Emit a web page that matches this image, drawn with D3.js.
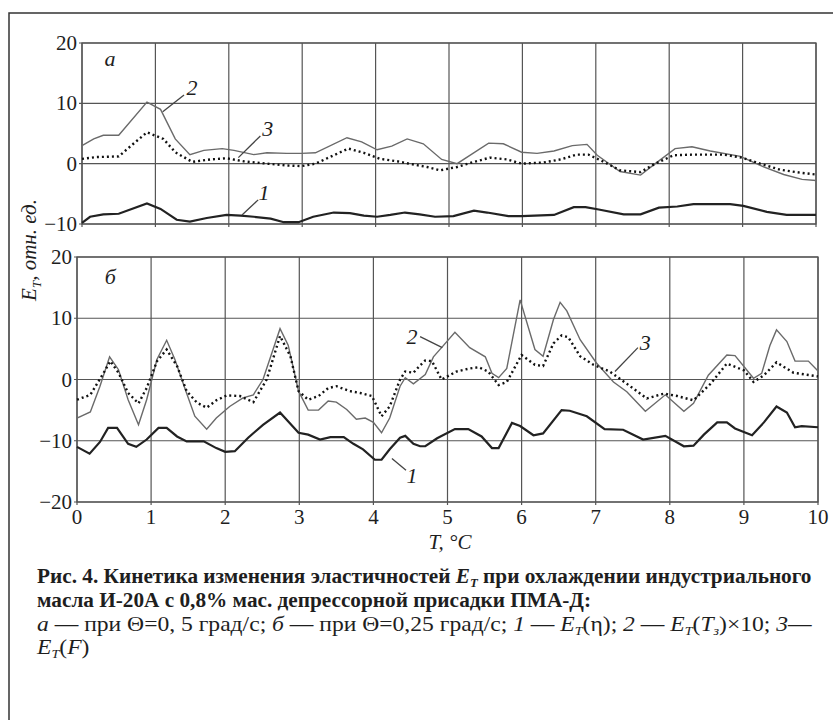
<!DOCTYPE html>
<html>
<head>
<meta charset="utf-8">
<script src="https://cdn.jsdelivr.net/npm/d3@7"></script>
<style>
  body { margin: 0; background: #fff; }
  svg { display: block; }
</style>
</head>
<body>
<div id="chart"></div>
<script>
// ---- data (T, °C ; E_T, rel. units) ----
var xTicks = [0,1,2,3,4,5,6,7,8,9,10]
var yTicksA = [-10,0,10,20]
var yTicksB = [-20,-10,0,10,20]

// panel a
var a1 = [[0,-9.8],[0.11,-8.8],[0.29,-8.4],[0.5,-8.3],[0.885,-6.6],[1.07,-7.5],[1.29,-9.3],[1.47,-9.6],[1.7,-9.0],[1.97,-8.5],[2.16,-8.6],[2.34,-8.8],[2.57,-9.1],[2.75,-9.7],[2.95,-9.7],[3.15,-8.8],[3.43,-8.1],[3.65,-8.2],[3.84,-8.6],[4.02,-8.8],[4.2,-8.5],[4.4,-8.1],[4.6,-8.4],[4.81,-8.8],[5.06,-8.7],[5.34,-7.8],[5.52,-8.1],[5.81,-8.7],[5.99,-8.7],[6.43,-8.5],[6.7,-7.2],[6.86,-7.2],[7.04,-7.6],[7.38,-8.4],[7.61,-8.4],[7.86,-7.3],[8.11,-7.1],[8.33,-6.7],[8.83,-6.7],[9.01,-7.0],[9.33,-8.0],[9.6,-8.5],[10,-8.5]]
var a2 = [[0,3.0],[0.16,4.1],[0.29,4.7],[0.5,4.7],[0.885,10.2],[1.07,9.0],[1.27,4.1],[1.47,1.5],[1.66,2.2],[1.91,2.5],[2.07,2.2],[2.34,1.5],[2.52,1.8],[2.79,1.7],[2.99,1.7],[3.18,1.8],[3.61,4.3],[3.81,3.6],[4.02,2.3],[4.22,2.9],[4.43,4.1],[4.65,3.3],[4.9,0.7],[5.11,0],[5.54,3.4],[5.74,3.3],[5.99,1.9],[6.2,1.7],[6.43,2.1],[6.68,3.0],[6.88,3.2],[7.02,1.4],[7.33,-1.3],[7.61,-1.9],[7.81,0],[8.08,2.5],[8.31,2.8],[8.56,2.1],[8.97,1.2],[9.24,-0.3],[9.56,-1.8],[9.81,-2.6],[10,-2.8]]
var a3 = [[0,0.8],[0.2,1.1],[0.5,1.2],[0.7,3.3],[0.885,5.2],[1.11,4.1],[1.27,1.9],[1.5,0.3],[1.75,0.7],[1.97,0.9],[2.2,0.4],[2.52,0],[2.79,-0.3],[2.99,-0.4],[3.18,0],[3.43,1.4],[3.63,2.5],[3.84,1.8],[4.06,0.8],[4.29,0.4],[4.5,-0.1],[4.7,-0.55],[4.88,-1.1],[5.11,-0.55],[5.34,0.3],[5.56,1.0],[5.79,0.7],[5.99,0],[6.29,0.2],[6.52,0.7],[6.74,1.5],[6.9,1.5],[7.11,0.3],[7.33,-1.1],[7.61,-1.4],[7.81,0],[8.06,1.4],[8.33,1.5],[8.74,1.5],[8.99,1.0],[9.24,0],[9.51,-1.0],[9.79,-1.5],[10,-1.8]]

// panel б
var b1 = [[0,-11.0],[0.17,-12.1],[0.31,-10.2],[0.42,-7.9],[0.54,-7.9],[0.69,-10.5],[0.8,-11.0],[0.94,-9.8],[1.1,-7.9],[1.21,-7.9],[1.35,-9.3],[1.48,-10.1],[1.71,-10.1],[1.88,-11.2],[2.0,-11.8],[2.13,-11.7],[2.31,-9.5],[2.51,-7.4],[2.74,-5.4],[2.99,-8.7],[3.12,-9.0],[3.28,-9.8],[3.42,-9.4],[3.6,-9.4],[3.73,-10.5],[3.86,-11.4],[4.02,-13.1],[4.11,-13.1],[4.22,-11.4],[4.36,-9.5],[4.43,-9.2],[4.54,-10.5],[4.63,-10.9],[4.7,-10.9],[4.86,-9.6],[5.1,-8.1],[5.28,-8.1],[5.46,-9.3],[5.6,-11.2],[5.69,-11.2],[5.87,-7.1],[5.98,-7.6],[6.16,-9.1],[6.29,-8.8],[6.54,-5.0],[6.65,-5.1],[6.88,-6.0],[7.12,-8.1],[7.37,-8.2],[7.64,-9.8],[7.94,-9.2],[8.19,-10.9],[8.32,-10.8],[8.46,-9.0],[8.64,-7.0],[8.77,-7.0],[8.88,-8.0],[9.11,-9.1],[9.27,-7.0],[9.44,-4.4],[9.58,-5.4],[9.69,-7.8],[9.78,-7.6],[10,-7.8]]
var b2 = [[0,-6.3],[0.18,-5.3],[0.31,-1.1],[0.44,3.7],[0.56,1.6],[0.69,-3.3],[0.83,-7.4],[0.94,-3.3],[1.08,3.3],[1.21,6.4],[1.32,3.3],[1.46,-1.6],[1.59,-6.0],[1.75,-8.1],[1.88,-6.3],[2.06,-4.4],[2.24,-3.0],[2.38,-2.5],[2.51,0],[2.74,8.3],[2.85,5.6],[2.99,-1.9],[3.12,-5.0],[3.26,-5.0],[3.39,-3.5],[3.5,-3.7],[3.64,-4.9],[3.77,-6.5],[3.89,-6.3],[4.0,-7.0],[4.11,-8.7],[4.22,-6.3],[4.36,-1.1],[4.43,0.3],[4.54,-0.7],[4.7,0.8],[4.81,3.7],[4.92,5.2],[5.1,7.7],[5.3,5.2],[5.51,3.7],[5.6,1.0],[5.69,0.3],[5.8,1.8],[5.98,13.0],[6.18,4.9],[6.29,3.8],[6.43,9.8],[6.52,12.6],[6.61,11.2],[6.79,6.5],[7.01,2.7],[7.24,-0.4],[7.42,-2.0],[7.67,-5.2],[7.94,-2.5],[8.19,-5.2],[8.32,-3.9],[8.52,0.7],[8.77,4.0],[8.88,3.9],[9.13,0.2],[9.24,1.0],[9.35,5.5],[9.44,8.1],[9.58,6.2],[9.69,3.0],[9.87,3.0],[10,1.4]]
var b3 = [[0,-3.3],[0.18,-2.5],[0.36,1.1],[0.45,3.0],[0.56,1.1],[0.69,-2.2],[0.83,-3.9],[0.94,-1.4],[1.08,3.0],[1.21,4.9],[1.35,2.2],[1.48,-1.9],[1.62,-3.8],[1.75,-4.6],[1.88,-3.4],[2.02,-2.6],[2.2,-2.7],[2.38,-3.7],[2.56,0],[2.74,7.1],[2.88,3.8],[2.99,-1.9],[3.12,-3.3],[3.26,-2.7],[3.39,-1.4],[3.5,-1.1],[3.68,-1.9],[3.82,-2.2],[3.98,-2.7],[4.11,-6.0],[4.22,-4.4],[4.36,0],[4.43,1.3],[4.54,1.1],[4.63,2.3],[4.7,3.1],[4.79,3.0],[4.92,0],[5.12,1.3],[5.3,1.8],[5.42,2.0],[5.55,1.3],[5.69,-0.9],[5.8,-0.4],[6.0,4.0],[6.18,2.4],[6.29,2.2],[6.43,5.9],[6.54,7.2],[6.63,6.9],[6.79,3.8],[6.97,2.4],[7.19,1.3],[7.42,-0.7],[7.69,-3.1],[7.92,-2.3],[8.1,-2.7],[8.32,-3.4],[8.55,-0.7],[8.77,2.6],[9.0,1.5],[9.13,-0.4],[9.27,0.7],[9.44,2.8],[9.67,1.1],[10,0.5]]

// curve labels: [label, labelT, labelV, fromT, fromV, toT, toV]
var notesA = [["2",1.5,12.6,1.39,11.4,1.1,8.6],["3",2.53,5.8,2.43,4.6,2.13,1.0],["1",2.48,-4.8,2.4,-6.0,2.18,-8.5]]
var notesB = [["2",4.52,7.0,4.63,7.0,4.93,5.2],["3",7.67,5.9,7.57,5.2,7.26,1.3],["1",4.52,-15.8,4.25,-12.9,4.44,-14.8]]

var W = 833, H = 720
var svg = d3.select("#chart").append("svg").attr("width", W).attr("height", H)
  .attr("font-family", "Liberation Serif").attr("fill", "#1e1e1e")

// outer frame (cut off at right and bottom)
svg.append("path").attr("d", "M9,720 L9,13 L833,13")
  .attr("fill", "none").attr("stroke", "#333").attr("stroke-width", 1.5)

function drawPanel(cfg) {
  var x = d3.scaleLinear().domain([0,10]).range([cfg.x0, cfg.x1])
  var y = d3.scaleLinear().domain(cfg.yDom).range([cfg.y1, cfg.y0])
  var g = svg.append("g")

  // grid
  g.append("g").selectAll("line").data(xTicks).enter().append("line")
    .attr("x1", function(d){return x(d)}).attr("x2", function(d){return x(d)})
    .attr("y1", cfg.y0).attr("y2", cfg.y1 + 3)
    .attr("stroke", "#555").attr("stroke-width", 1.2)
  g.append("g").selectAll("line").data(cfg.yTicks).enter().append("line")
    .attr("x1", cfg.x0 - 3).attr("x2", cfg.x1)
    .attr("y1", function(d){return y(d)}).attr("y2", function(d){return y(d)})
    .attr("stroke", "#555").attr("stroke-width", 1.2)
  g.append("rect").attr("x", cfg.x0).attr("y", cfg.y0)
    .attr("width", cfg.x1 - cfg.x0).attr("height", cfg.y1 - cfg.y0)
    .attr("fill", "none").attr("stroke", "#555").attr("stroke-width", 1.3)

  // y tick labels
  g.append("g").selectAll("text").data(cfg.yTicks).enter().append("text")
    .attr("x", cfg.x0 - 5).attr("y", function(d){return y(d) + 7})
    .attr("text-anchor", "end").attr("font-size", 21)
    .text(function(d){return d < 0 ? "\u2212" + Math.abs(d) : d})

  var line = d3.line().x(function(d){return x(d[0])}).y(function(d){return y(d[1])})
  g.append("path").datum(cfg.s2).attr("d", line).attr("fill", "none")
    .attr("stroke", "#6a6a6a").attr("stroke-width", 1.4)
  g.append("path").datum(cfg.s3).attr("d", line).attr("fill", "none")
    .attr("stroke", "#111").attr("stroke-width", 2.4).attr("stroke-dasharray", "2,3")
  g.append("path").datum(cfg.s1).attr("d", line).attr("fill", "none")
    .attr("stroke", "#222").attr("stroke-width", 2.2)

  // curve numbers with leader lines
  cfg.notes.forEach(function(n){
    g.append("line").attr("x1", x(n[3])).attr("y1", y(n[4]))
      .attr("x2", x(n[5])).attr("y2", y(n[6]))
      .attr("stroke", "#444").attr("stroke-width", 1.3)
    g.append("text").attr("x", x(n[1])).attr("y", y(n[2]) + 7)
      .attr("text-anchor", "middle").attr("font-size", 22).attr("font-style", "italic")
      .text(n[0])
  })
  g.append("text").attr("x", x(cfg.tagT)).attr("y", y(cfg.tagV) + 6)
    .attr("text-anchor", "middle").attr("font-size", 22).attr("font-style", "italic")
    .text(cfg.tag)

  if (cfg.xLabels) {
    g.append("g").selectAll("text").data(xTicks).enter().append("text")
      .attr("x", function(d){return x(d)}).attr("y", cfg.y1 + 22)
      .attr("text-anchor", "middle").attr("font-size", 21)
      .text(function(d){return d})
  }
}

drawPanel({x0: 82, x1: 816, y0: 43, y1: 224, yDom: [-10,20], yTicks: yTicksA,
  s1: a1, s2: a2, s3: a3, notes: notesA, tag: "а", tagT: 0.38, tagV: 17.2})
drawPanel({x0: 77, x1: 818, y0: 257, y1: 502, yDom: [-20,20], yTicks: yTicksB,
  s1: b1, s2: b2, s3: b3, notes: notesB, tag: "б", tagT: 0.45, tagV: 16.6, xLabels: true})

// axis titles
var yt = svg.append("text").attr("transform", "translate(36,250) rotate(-90)")
  .attr("text-anchor", "middle").attr("font-size", 21).attr("font-style", "italic")
yt.append("tspan").text("E")
yt.append("tspan").attr("dy", 5).attr("font-size", 13).text("T")
yt.append("tspan").attr("dy", -5).text(", отн. ед.")

svg.append("text").attr("x", 450).attr("y", 549)
  .attr("text-anchor", "middle").attr("font-size", 21).attr("font-style", "italic")
  .text("T, °C")

// caption; the first line of each style sets the horizontal squeeze
function capText(parts, bold) {
  var t = svg.append("text").attr("x", 0).attr("y", 0)
    .attr("font-size", 20).attr("font-weight", bold ? "bold" : "normal")
  parts.forEach(function(p){
    var s = t.append("tspan").text(p[0])
    if (p[1] == "i") s.attr("font-style", "italic")
    if (p[1] == "sub") s.attr("font-style", "italic").attr("font-size", 12).attr("dy", 4)
    if (p[1] == "up") s.attr("dy", -4)
  })
  return t
}
function place(t, x0, y, k) {
  t.attr("transform", "translate(" + x0 + "," + y + ") scale(" + k + ",1)")
}
var c1 = capText([["Рис. 4. Кинетика изменения эластичностей "],["E","i"],["T","sub"],["  при охлаждении индустриального","up"]], true)
var kb = (812 - 37) / c1.node().getComputedTextLength()
place(c1, 37, 583, kb)
place(capText([["масла И-20А с 0,8% мас. депрессорной присадки ПМА-Д:"]], true), 37, 607, kb)
var c3 = capText([["а","i"],[" — при Θ=0, 5 град/с; "],["б","i"],[" — при Θ=0,25 град/с; "],["1","i"],[" — "],["E","i"],["T","sub"],["(η); ","up"],["2","i"],[" — "],["E","i"],["T","sub"],["(","up"],["T","i"],["з","sub"],[")×10; ","up"],["3","i"],["—"]], false)
var kn = (812 - 37) / c3.node().getComputedTextLength()
place(c3, 37, 631, kn)
place(capText([["E","i"],["T","sub"],["(","up"],["F","i"],[")"]], false), 37, 654, kn)
</script>
</body>
</html>
